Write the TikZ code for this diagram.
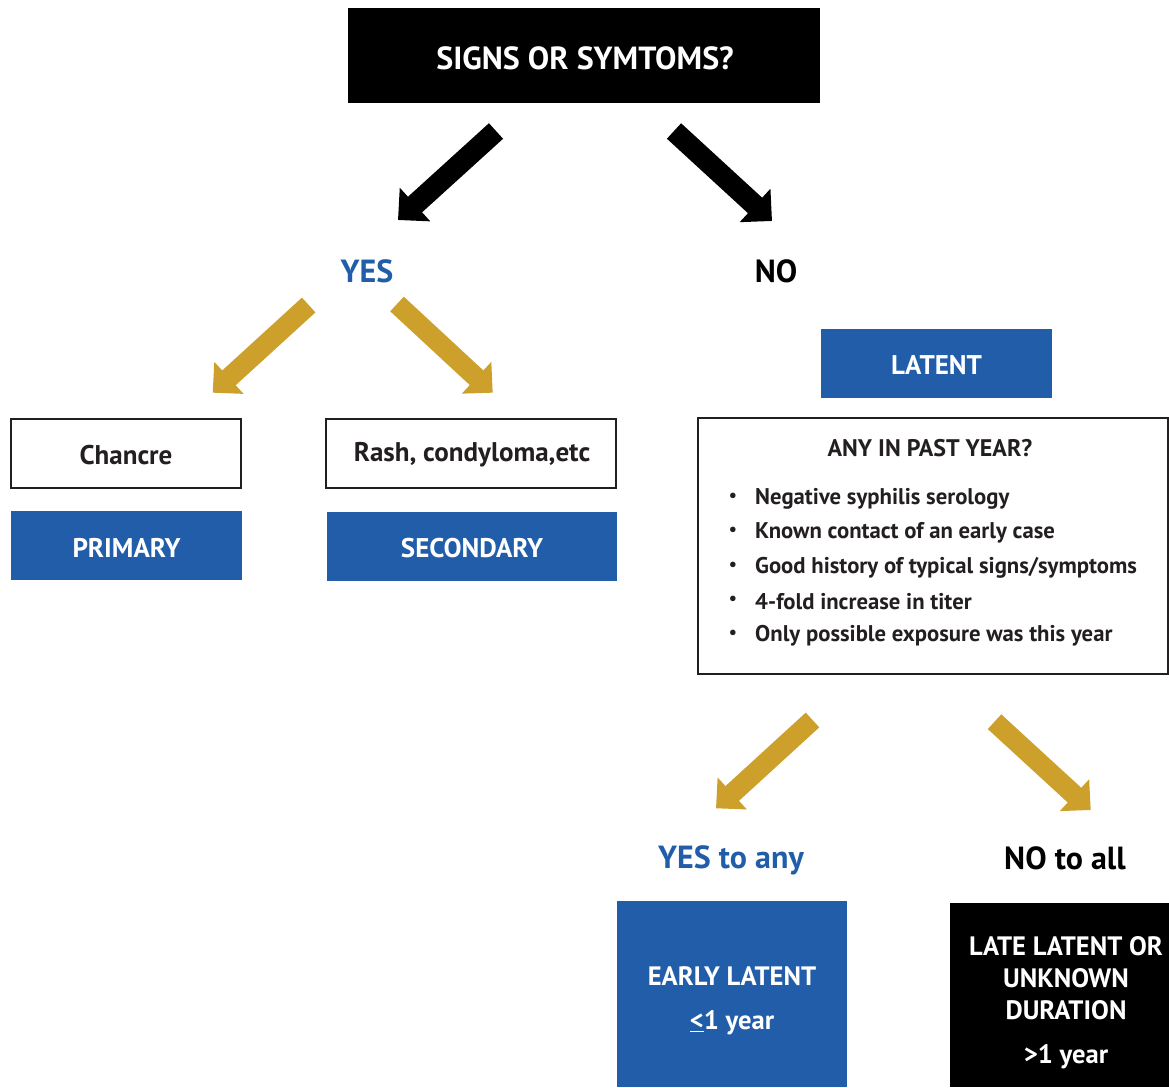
\documentclass[tikz,border=0pt]{standalone}
\usepackage{fontspec}
\setmainfont{PT Sans}
\usetikzlibrary{arrows.meta}
\definecolor{cblue}{HTML}{215DA8}
\definecolor{cgold}{HTML}{CDA02C}
\definecolor{ctext}{HTML}{231F20}
\tikzset{
  boxbase/.style={rectangle, inner sep=0pt, align=center, font=\bfseries\fontsize{27}{31}\selectfont},
  bluebox/.style={boxbase, fill=cblue, text=white},
  blackbox/.style={boxbase, fill=black, text=white},
  whitebox/.style={boxbase, draw=ctext, line width=2pt, fill=white, text=ctext},
  plainlabel/.style={inner sep=0pt, align=center, font=\bfseries\fontsize{27}{31}\selectfont},
  answer/.style={inner sep=0pt, font=\bfseries\fontsize{32}{36}\selectfont},
  bultext/.style={anchor=west, inner sep=0pt, text=ctext, font=\bfseries\fontsize{22.7}{26}\selectfont},
  bigwhite/.style={inner sep=0pt, text=white, align=center, font=\bfseries\fontsize{26.6}{32}\selectfont},
  barrow/.style={line width=21pt, draw=black, -{Triangle[length=23pt,width=44pt]}},
  garrow/.style={line width=20pt, draw=cgold, -{Triangle[length=22pt,width=42pt,color=cgold]}},
}
\begin{document}
\begin{tikzpicture}[x=1pt,y=-1pt]
\useasboundingbox (0,0) rectangle (1169,1087);
% top
\node[blackbox, minimum width=472, minimum height=95] (q) at (584,55.5) {};
\node[plainlabel, text=white, font=\bfseries\fontsize{32}{36}\selectfont] (qt) at (585,58) {SIGNS OR SYMTOMS?};
% answers
\node[answer, text=cblue] (yes) at (367,271) {YES};
\node[answer, text=black] (no) at (776,271) {NO};
% black arrows
\coordinate (b1s) at (496,131); \coordinate (b1e) at (398,220);
\coordinate (b2s) at (674,131); \coordinate (b2e) at (772,221);
\draw[barrow] (b1s) -- (b1e);
\draw[barrow] (b2s) -- (b2e);
% gold arrows (yes)
\coordinate (g1s) at (308.7,305); \coordinate (g1e) at (212.7,392.7);
\coordinate (g2s) at (397,304); \coordinate (g2e) at (492.7,392.7);
\draw[garrow] (g1s) -- (g1e);
\draw[garrow] (g2s) -- (g2e);
% left boxes
\node[whitebox, minimum width=230, minimum height=69] (chancre) at (126,453.5) {};
\node[plainlabel, text=ctext] (chancret) at (126,455.5) {Chancre};
\node[whitebox, minimum width=290, minimum height=69] (rash) at (471,453.5) {};
\node[plainlabel, text=ctext] (rasht) at (472,455) {Rash, condyloma,etc};
\node[bluebox, minimum width=231, minimum height=69] (primary) at (126.5,545.5) {};
\node[plainlabel, text=white] (primaryt) at (126.5,547.5) {PRIMARY};
\node[bluebox, minimum width=290, minimum height=69] (secondary) at (472,546.5) {};
\node[plainlabel, text=white] (secondaryt) at (472,548.5) {SECONDARY};
% latent
\node[bluebox, minimum width=231, minimum height=69] (latent) at (936.5,363.5) {};
\node[plainlabel, text=white] (latentt) at (936.5,365.5) {LATENT};
\node[whitebox, minimum width=470, minimum height=256] (any) at (933,546) {};
\node[anchor=center, inner sep=0pt, text=ctext, font=\bfseries\fontsize{24}{28}\selectfont] (anyt) at (930,448) {ANY IN PAST YEAR?};
\foreach \y/\t [count=\i] in {499/{Negative syphilis serology},533/{Known contact of an early case},568/{Good history of typical signs/symptoms},602/{4-fold increase in titer},636/{Only possible exposure was this year}}{
  \node[bultext] (bul\i) at (755,\y) {\t};
}
\foreach \y [count=\i] in {497,531,566,600,634}{
  \node[anchor=center, inner sep=0pt, text=ctext, font=\bfseries\fontsize{18}{20}\selectfont] (dot\i) at (733,\y) {•};
}
% gold arrows (latent)
\coordinate (g3s) at (812.5,720); \coordinate (g3e) at (716,808.3);
\coordinate (g4s) at (994.5,721.7); \coordinate (g4e) at (1090.7,810);
\draw[garrow] (g3s) -- (g3e);
\draw[garrow] (g4s) -- (g4e);
\node[answer, text=cblue] (yesany) at (731,860) {YES to any};
\node[answer, text=black] (noall) at (1065,858) {NO to all};
% bottom boxes
\node[bluebox, minimum width=230, minimum height=186] (early) at (732,994) {};
\node[bigwhite] (earlyt) at (732,976) {EARLY LATENT};
\node[bigwhite] (earlyy) at (732,1023) {\underline{<}1 year};
\node[blackbox, minimum width=219, minimum height=184] (late) at (1059.5,995) {};
\node[bigwhite] (latet) at (1066,978) {LATE LATENT OR\\UNKNOWN\\DURATION};
\node[bigwhite] (latey) at (1066,1057) {>1 year};
\end{tikzpicture}
\end{document}
